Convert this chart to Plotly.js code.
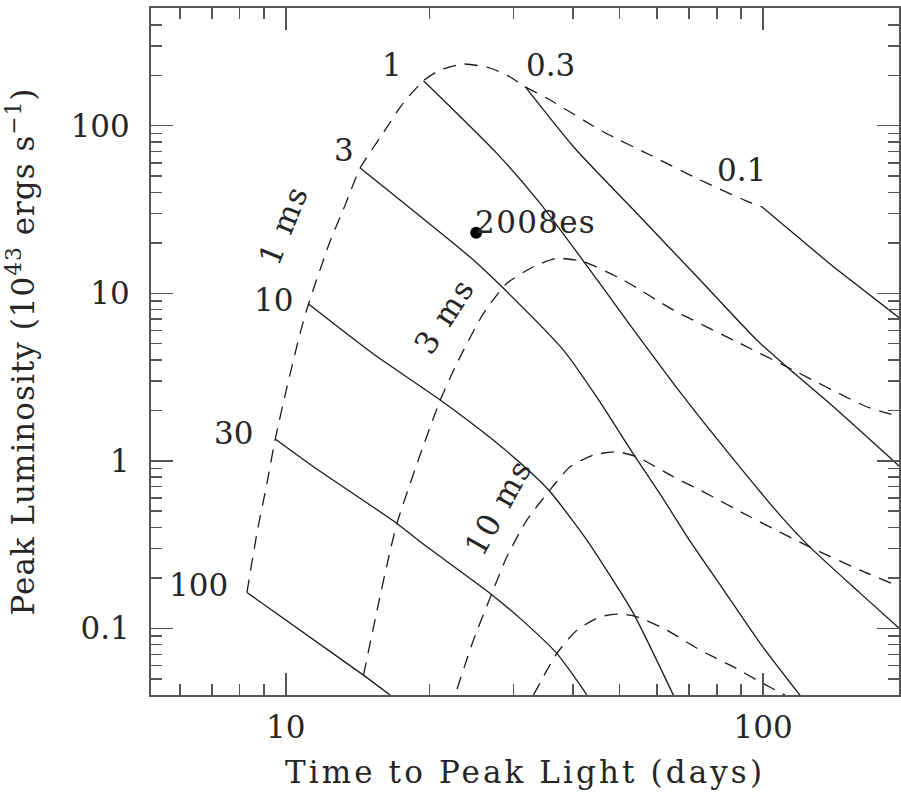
<!DOCTYPE html>
<html><head><meta charset="utf-8">
<script src="https://cdn.plot.ly/plotly-3.0.1.min.js"></script>
<style>body{margin:0;background:#fff}#chart{width:901px;height:793px}
.g-xtitle text{letter-spacing:3.1px}.g-ytitle text{letter-spacing:1px}
.annotation[data-index="7"] text,.annotation[data-index="8"] text,.annotation[data-index="9"] text{letter-spacing:2px}
.annotation[data-index="10"] text{letter-spacing:1.3px}</style>
</head><body><div id="chart"></div>
<script>
// Spin-period curves (dashed): time to peak (days) and peak luminosity (1e43 erg/s)
const ms1_t = [8.293, 8.703, 9.134, 9.506, 10.06, 10.72, 11.16, 12.39, 13.32, 14.32, 16.00, 17.62, 19.44, 21.07, 23.53, 26.81, 29.52, 31.74, 35.81, 46.23, 57.99, 73.81, 92.44, 99.38];
const ms1_L = [0.1638, 0.3701, 0.7360, 1.348, 2.754, 5.786, 8.620, 20.50, 33.62, 55.90, 90.45, 136.6, 185.7, 215.1, 233.6, 221.1, 195.4, 171.0, 142.4, 92.08, 66.85, 47.41, 35.52, 32.84];
const ms3_t = [14.55, 15.70, 16.29, 17.10, 18.95, 21.07, 22.83, 25.96, 29.06, 33.03, 36.98, 42.04, 50.98, 64.89, 89.49, 112.1, 164.9, 193.6];
const ms3_L = [0.05255, 0.1474, 0.2384, 0.4229, 1.0097, 2.304, 3.815, 7.586, 11.46, 14.39, 16.16, 15.42, 11.99, 7.938, 5.022, 3.640, 2.101, 1.831];
const ms10_t = [22.10, 24.73, 27.03, 29.06, 32.00, 35.52, 39.43, 44.11, 49.39, 54.39, 64.89, 73.81, 93.91, 125.4, 159.7, 193.6];
const ms10_L = [0.03248, 0.08502, 0.1616, 0.2672, 0.4426, 0.6531, 0.9208, 1.081, 1.132, 1.056, 0.8026, 0.6685, 0.4631, 0.3053, 0.2226, 0.1769];
const ms30_t = [33.03, 36.98, 40.72, 45.57, 50.18, 54.39, 62.85, 73.81, 86.68, 98.56, 111.2];
const ms30_L = [0.03993, 0.07081, 0.09755, 0.1172, 0.1216, 0.1172, 0.09755, 0.07409, 0.05892, 0.04792, 0.03993];

// Magnetic-field curves (solid), B in 1e14 G
const b100_t = [8.293, 14.55, 16.55];
const b100_L = [0.1638, 0.05255, 0.03993];
const b30_t = [9.506, 11.43, 17.10, 19.13, 26.81, 31.44, 36.98, 42.74, 44.48];
const b30_L = [1.348, 0.9208, 0.4229, 0.3284, 0.1616, 0.1104, 0.07081, 0.03993, 0.03248];
const b10_t = [11.16, 15.27, 21.07, 27.20, 32.51, 35.81, 42.74, 53.50, 64.89, 67.24];
const b10_L = [8.620, 4.336, 2.304, 1.329, 0.8598, 0.6531, 0.3360, 0.1227, 0.03993, 0.03248];
const b3_t = [14.32, 24.73, 28.58, 38.17, 45.57, 52.66, 60.87, 70.33, 83.25, 98.56, 119.5, 126.6];
const b3_L = [55.90, 15.79, 10.70, 4.580, 2.241, 1.175, 0.6327, 0.3314, 0.1645, 0.08158, 0.03993, 0.03248];
const b1_t = [19.44, 27.69, 34.12, 42.04, 52.66, 67.01, 85.31, 108.5, 125.4, 159.7, 193.6];
const b1_L = [185.7, 68.43, 34.41, 15.57, 6.459, 2.572, 1.081, 0.4740, 0.3053, 0.1622, 0.09890];
const b03_t = [31.74, 40.06, 55.26, 73.81, 97.01, 112.1, 140.4, 193.6];
const b03_L = [171.0, 74.95, 28.62, 11.99, 5.255, 3.640, 2.101, 0.9208];
const b01_t = [99.38, 140.4, 193.6];
const b01_L = [32.84, 14.39, 7.083];

// Observed supernova
const sn_t = [25.06];
const sn_L = [22.97];
const sn_name = ['2008es'];

// Ticks
const xTickVals = [10, 100];
const xTickText = ['10', '100'];
const xMinorVals = [6, 7, 8, 9, 20, 30, 40, 50, 60, 70, 80, 90];
const yTickVals = [0.1, 1, 10, 100];
const yTickText = ['0.1', '1', '10', '100'];
const yMinorVals = [0.05, 0.06, 0.07, 0.08, 0.09, 0.2, 0.3, 0.4, 0.5, 0.6, 0.7, 0.8, 0.9,
  2, 3, 4, 5, 6, 7, 8, 9, 20, 30, 40, 50, 60, 70, 80, 90, 200, 300, 400, 500];

// Curve labels
const bLabels = ['100', '30', '10', '3', '1', '0.3', '0.1'];
const pLabels = ['1 ms', '3 ms', '10 ms'];

const FONT = 'DejaVu Serif';
const INK = '#1a1a1a';
const TXT = '#262626';
const dashStyle = {color: INK, width: 1.3, dash: '13px,9px', shape: 'spline', smoothing: 0.6};
const solidStyle = {color: INK, width: 1.3, shape: 'spline', smoothing: 0.6};
function ln(t, L, style, name) {
  return {x: t, y: L, type: 'scatter', mode: 'lines', line: style, name: name, hoverinfo: 'skip'};
}
const data = [
  ln(ms1_t, ms1_L, dashStyle, '1 ms'),
  ln(ms3_t, ms3_L, dashStyle, '3 ms'),
  ln(ms10_t, ms10_L, dashStyle, '10 ms'),
  ln(ms30_t, ms30_L, dashStyle, '30 ms'),
  ln(b100_t, b100_L, {color: INK, width: 1.3}, 'B=100'),
  ln(b30_t, b30_L, solidStyle, 'B=30'),
  ln(b10_t, b10_L, solidStyle, 'B=10'),
  ln(b3_t, b3_L, solidStyle, 'B=3'),
  ln(b1_t, b1_L, solidStyle, 'B=1'),
  ln(b03_t, b03_L, solidStyle, 'B=0.3'),
  ln(b01_t, b01_L, {color: INK, width: 1.3}, 'B=0.1'),
  {x: sn_t, y: sn_L, type: 'scatter', mode: 'markers', marker: {color: '#000', size: 12}, name: sn_name[0]}
];
const lblFont = {family: FONT, size: 31, color: TXT};
function lab(text, lx, ly, angle) {
  return {text: text, x: lx, y: ly, xref: 'x', yref: 'y', showarrow: false,
          xanchor: 'center', yanchor: 'middle', font: lblFont, textangle: angle || 0};
}
const annotations = [
  lab(bLabels[0], 0.8174, -0.7421),
  lab(bLabels[1], 0.8907, 0.1636),
  lab(bLabels[2], 0.9745, 0.9594),
  lab(bLabels[3], 1.1211, 1.8549),
  lab(bLabels[4], 1.2224, 2.3624),
  lab(bLabels[5], 1.5539, 2.3624),
  lab(bLabels[6], 1.9554, 1.7355),
  lab(pLabels[0], 0.9948, 1.4072, -68),
  lab(pLabels[1], 1.3319, 0.8639, -57),
  lab(pLabels[2], 1.4450, -0.2764, -61),
  {text: sn_name[0], x: Math.log10(sn_t[0]), y: Math.log10(sn_L[0]), xref: 'x', yref: 'y',
   showarrow: false, xanchor: 'left', yanchor: 'middle', xshift: 1, yshift: 11, font: lblFont}
];
const axisCommon = {
  type: 'log', showgrid: false, zeroline: false, showline: true, linecolor: '#555', linewidth: 2,
  mirror: 'allticks', ticks: 'inside', ticklen: 22, tickwidth: 1.5, tickcolor: '#555',
  tickmode: 'array', tickfont: {family: FONT, size: 31, color: TXT}, automargin: false
};
const layout = {
  width: 901, height: 793,
  margin: {l: 151, r: 2, t: 8, b: 98},
  paper_bgcolor: '#fff', plot_bgcolor: '#fff',
  showlegend: false,
  font: {family: FONT, color: TXT},
  xaxis: Object.assign({}, axisCommon, {
    range: [0.7177, 2.2848], tickvals: xTickVals, ticktext: xTickText, ticklabelstandoff: 4,
    minor: {tickmode: 'array', tickvals: xMinorVals, ticks: 'inside', ticklen: 11, tickwidth: 1.5, tickcolor: '#555', showgrid: false},
    title: {text: 'Time to Peak Light (days)', font: {family: FONT, size: 31, color: TXT}, standoff: 17}
  }),
  yaxis: Object.assign({}, axisCommon, {
    range: [-1.398, 2.7027], tickvals: yTickVals, ticktext: yTickText, ticklabelstandoff: 13,
    minor: {tickmode: 'array', tickvals: yMinorVals, ticks: 'inside', ticklen: 11, tickwidth: 1.5, tickcolor: '#555', showgrid: false},
    title: {text: 'Peak Luminosity (10<sup>43</sup> ergs s<sup>−1</sup>)', font: {family: FONT, size: 31, color: TXT}, standoff: 27}
  }),
  annotations: annotations
};
Plotly.newPlot('chart', data, layout, {staticPlot: true, displayModeBar: false});
</script></body></html>
